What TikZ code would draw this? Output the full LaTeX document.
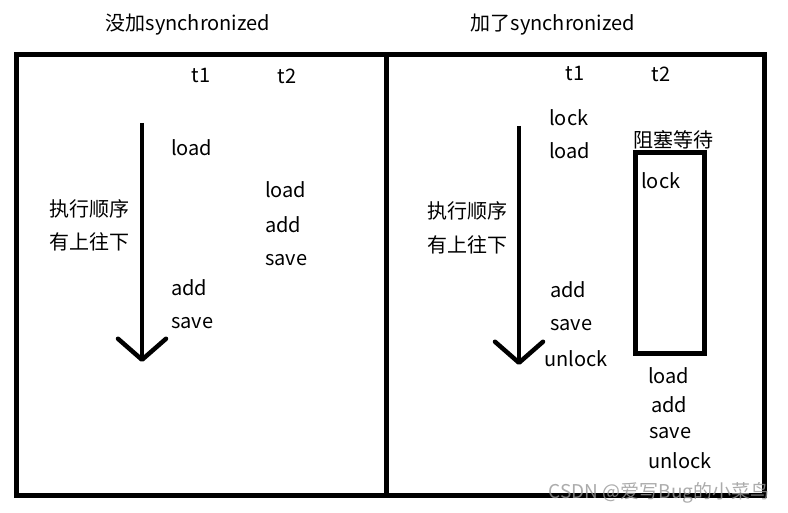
\documentclass[tikz,border=0pt]{standalone}
\usepackage{fontspec}
\setmainfont{Noto Sans CJK SC}
\usepackage{xcolor}
\definecolor{markgray}{RGB}{150,150,150}
\usetikzlibrary{arrows.meta, positioning}

\tikzset{
  opword/.style={anchor=west, inner sep=0pt},
  flowarrow/.style={line width=4.5pt, -{Straight Barb[length=21pt,width=48pt,line cap=round,round]}}
}

\begin{document}
\begin{tikzpicture}[x=1pt, y=-1pt, font=\fontsize{20}{24}\selectfont]
  \useasboundingbox (0,0) rectangle (788,513);
  % titles
  \node (titleA) at (188,25) {没加synchronized};
  \node (titleB) at (553,25) {加了synchronized};
  % frame
  \draw[line width=5pt] (16.5,54.5) rectangle (764.5,495.5);
  \draw[line width=5pt] (386.5,54.5) -- (386.5,495.5);

  % left: without lock
  \node (lt1) at (201,76) {t1};
  \node (lt2) at (287,76) {t2};
  \coordinate (lstart) at (142,123);
  \coordinate (lend) at (142,362);
  \draw[flowarrow] (lstart) -- (lend);
  \node (lorder) at (89,209) {执行顺序};
  \node (ldir) at (89,242) {有上往下};
  \node[opword] (lload1) at (171,148) {load};
  \node[opword] (lload2) at (265,190) {load};
  \node[opword] (ladd2) at (265,225) {add};
  \node[opword] (lsave2) at (265,260) {save};
  \node[opword] (ladd1) at (171,288) {add};
  \node[opword] (lsave1) at (171,323) {save};

  % right: with lock
  \node (rt1) at (575,74) {t1};
  \node (rt2) at (661,74) {t2};
  \coordinate (rstart) at (519,126);
  \coordinate (rend) at (519,365);
  \draw[flowarrow] (rstart) -- (rend);
  \node (rorder) at (467,211) {执行顺序};
  \node (rdir) at (467,245) {有上往下};
  \node[opword] (rlock1) at (549,118) {lock};
  \node[opword] (rload1) at (549,151) {load};
  \node[opword] (radd1) at (550,290) {add};
  \node[opword] (rsave1) at (550,325) {save};
  \node[opword] (runlock1) at (544,359) {unlock};
  \node (rwait) at (673,140) {阻塞等待};
  \node[draw, line width=5pt, minimum width=69.5pt, minimum height=201pt, inner sep=0pt] (rblock) at (670,253.5) {};
  \node[opword] (rlock2) at (641,181) {lock};
  \node[opword] (rload2) at (648,376) {load};
  \node[opword] (radd2) at (651,405) {add};
  \node[opword] (rsave2) at (649,433) {save};
  \node[opword] (runlock2) at (648,461) {unlock};

  \node[anchor=east, text=markgray, opacity=0.8, font=\fontsize{19}{22}\selectfont] (mark) at (773,493) {CSDN @爱写Bug的小菜鸟};
\end{tikzpicture}
\end{document}
